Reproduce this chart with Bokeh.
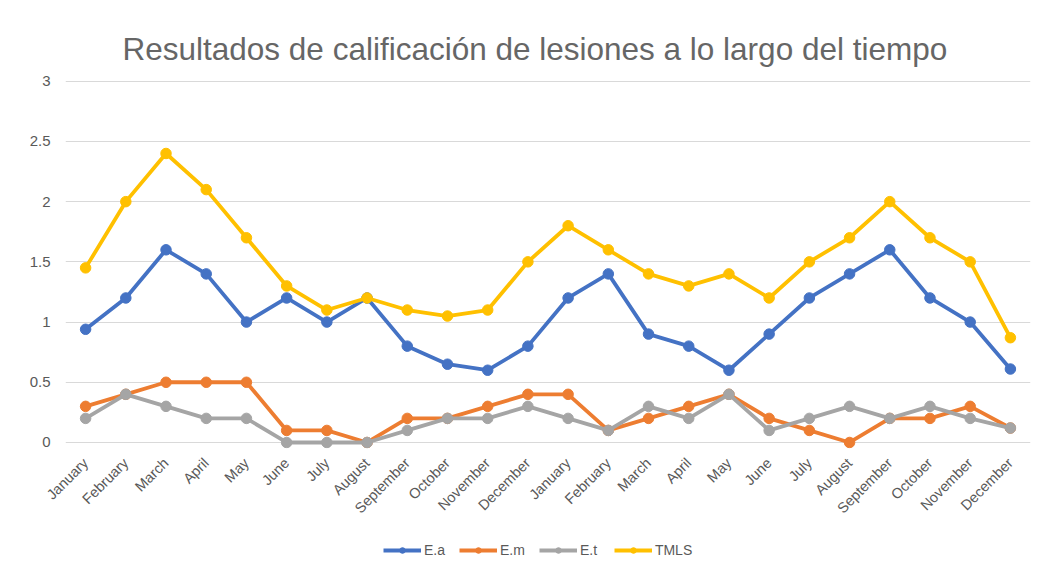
import math
from bokeh.plotting import figure
from bokeh.layouts import column
from bokeh.models import Range1d, FixedTicker, Legend, LegendItem
from bokeh.embed import file_html
from bokeh.resources import INLINE

months = ["January", "February", "March", "April", "May", "June", "July",
          "August", "September", "October", "November", "December"] * 2
series_names = ["E.a", "E.m", "E.t", "TMLS"]
ea = [0.94, 1.2, 1.6, 1.4, 1.0, 1.2, 1.0, 1.2, 0.8, 0.65, 0.6, 0.8,
      1.2, 1.4, 0.9, 0.8, 0.6, 0.9, 1.2, 1.4, 1.6, 1.2, 1.0, 0.61]
em = [0.3, 0.4, 0.5, 0.5, 0.5, 0.1, 0.1, 0.0, 0.2, 0.2, 0.3, 0.4,
      0.4, 0.1, 0.2, 0.3, 0.4, 0.2, 0.1, 0.0, 0.2, 0.2, 0.3, 0.12]
et = [0.2, 0.4, 0.3, 0.2, 0.2, 0.0, 0.0, 0.0, 0.1, 0.2, 0.2, 0.3,
      0.2, 0.1, 0.3, 0.2, 0.4, 0.1, 0.2, 0.3, 0.2, 0.3, 0.2, 0.12]
tmls = [1.45, 2.0, 2.4, 2.1, 1.7, 1.3, 1.1, 1.2, 1.1, 1.05, 1.1, 1.5,
        1.8, 1.6, 1.4, 1.3, 1.4, 1.2, 1.5, 1.7, 2.0, 1.7, 1.5, 0.87]
y_ticks = [0, 0.5, 1, 1.5, 2, 2.5, 3]
y_tick_labels = ["0", "0.5", "1", "1.5", "2", "2.5", "3"]
colors = ["#4472C4", "#ED7D31", "#A5A5A5", "#FFC000"]

x = list(range(len(months)))
FONT = "Liberation Sans"
GRAY = "#595959"

p = figure(width=1032, height=532, output_backend="svg", toolbar_location=None,
           x_range=Range1d(-0.5, len(months) - 0.5), y_range=Range1d(-0.05, 3.006),
           min_border_left=65, min_border_right=2, min_border_top=80,
           min_border_bottom=84,
           title="Resultados de calificación de lesiones a lo largo del tiempo")

p.title.align = "left"
p.title.offset = 57
p.title.text_font = FONT
p.title.text_font_size = "31.5px"
p.title.text_font_style = "normal"
p.title.text_color = "#666666"
p.title.standoff = 28

p.outline_line_color = None
p.background_fill_color = "white"
p.border_fill_color = "white"

p.xgrid.grid_line_color = None
p.ygrid.grid_line_color = "#D9D9D9"
p.ygrid.ticker = FixedTicker(ticks=y_ticks)

p.yaxis.ticker = FixedTicker(ticks=y_ticks)
p.yaxis.major_label_overrides = {t: l for t, l in zip(y_ticks, y_tick_labels)}
p.yaxis.axis_line_color = None
p.yaxis.major_tick_line_color = None
p.yaxis.minor_tick_line_color = None
p.yaxis.major_label_text_font = FONT
p.yaxis.major_label_text_font_size = "15px"
p.yaxis.major_label_text_color = GRAY
p.yaxis.major_label_standoff = 9

p.xaxis.ticker = FixedTicker(ticks=x)
p.xaxis.major_label_overrides = {i: m for i, m in zip(x, months)}
p.xaxis.major_label_orientation = math.pi / 4
p.xaxis.axis_line_color = None
p.xaxis.major_tick_line_color = None
p.xaxis.minor_tick_line_color = None
p.xaxis.major_label_text_font = FONT
p.xaxis.major_label_text_font_size = "14.5px"
p.xaxis.major_label_text_color = GRAY
p.xaxis.major_label_standoff = 6

for vals, c in zip([ea, em, et, tmls], colors):
    p.line(x, vals, line_color=c, line_width=3.8)
    p.scatter(x, vals, size=10.5, fill_color=c, line_color=c)

# legend strip below the chart (series drawn outside its visible range)
lg = figure(width=1032, height=36, output_backend="svg", toolbar_location=None,
            x_axis_type=None, y_axis_type=None, min_border=0,
            x_range=Range1d(-0.5, len(months) - 0.5), y_range=Range1d(10, 11))
lg.outline_line_color = None
lg.xgrid.grid_line_color = None
lg.ygrid.grid_line_color = None
items = []
for name, vals, c in zip(series_names, [ea, em, et, tmls], colors):
    ln = lg.line(x, vals, line_color=c, line_width=3.8)
    sc = lg.scatter(x, vals, size=10.5, fill_color=c, line_color=c)
    items.append(LegendItem(label=name, renderers=[ln, sc]))
legend = Legend(items=items, orientation="horizontal", location=(318, 10),
                border_line_color=None, background_fill_alpha=0,
                label_text_font=FONT, label_text_font_size="14px",
                label_text_color=GRAY, glyph_width=38, glyph_height=14,
                label_standoff=3, spacing=14, padding=0, margin=0)
lg.add_layout(legend, "center")

layout = column(p, lg, spacing=0)
open("out.html", "w").write(file_html(layout, INLINE))
